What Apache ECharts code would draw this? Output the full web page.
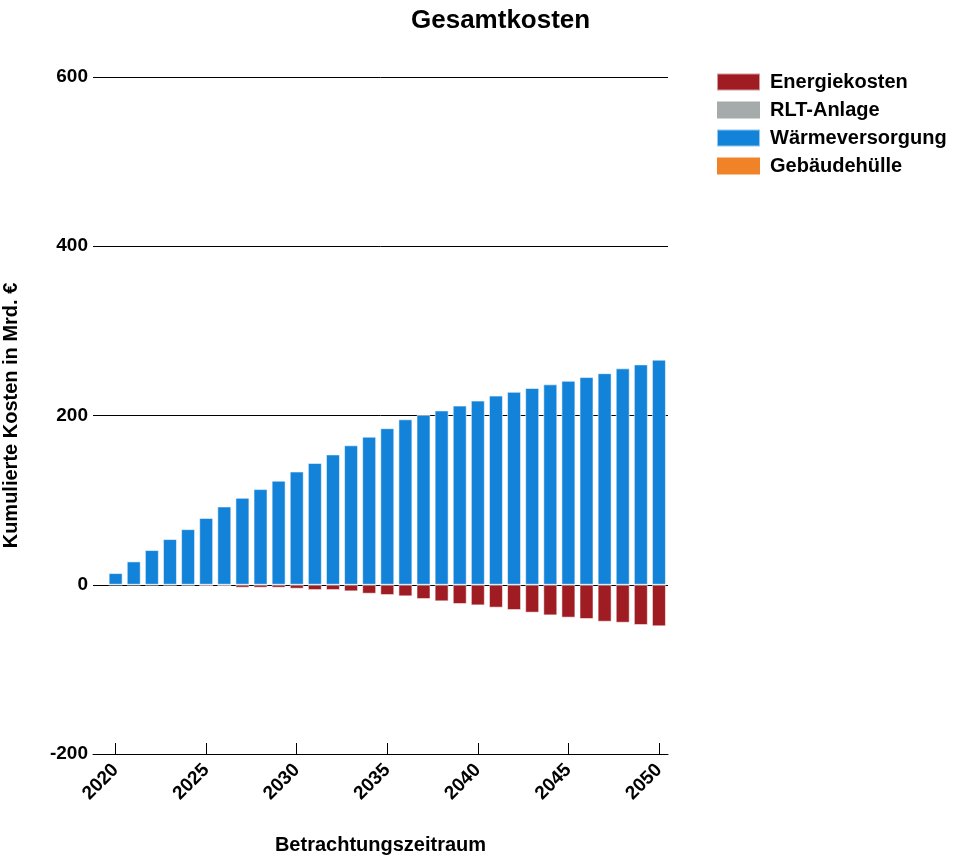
<!DOCTYPE html>
<html>
<head>
<meta charset="utf-8">
<script src="https://cdn.jsdelivr.net/npm/echarts@6/dist/echarts.min.js"></script>
<style>html,body{margin:0;padding:0;background:#fff}#c{width:955px;height:856px}</style>
</head>
<body>
<div id="c"></div>
<script>
var years = [2020,2021,2022,2023,2024,2025,2026,2027,2028,2029,2030,2031,2032,2033,2034,2035,2036,2037,2038,2039,2040,2041,2042,2043,2044,2045,2046,2047,2048,2049,2050];
var energiekosten = [-0.3,-0.4,-0.5,-0.6,-0.8,-2,-2,-3.5,-3.5,-3.5,-4.7,-6.3,-6.3,-7.8,-10.6,-12.2,-13.7,-16.9,-19.6,-22.8,-24.4,-27.1,-29.9,-33,-36.2,-38.9,-40.5,-43.7,-44.9,-47.6,-49.1];
var rltAnlage = [0,0,0,0,0,0,0,0,0,0,0,0,0,0,0,0,0,0,0,0,0,0,0,0,0,0,0,0,0,0,0];
var waermeversorgung = [13.8,27.6,41,54,65.7,79,92.5,102.7,113,123,133.8,144,154,164.8,175,185,195.5,200.6,206,211.7,217.6,223.5,228,232.5,236.8,241,245.4,250,255.7,260.4,266];
var gebaeudehuelle = [0,0,0,0,0,0,0,0,0,0,0,0,0,0,0,0,0,0,0,0,0,0,0,0,0,0,0,0,0,0,0];
var xTicks = [2020,2025,2030,2035,2040,2045,2050];

function pairs(vals){ return years.map(function(y,i){ return [y, vals[i]]; }); }

var font = 'Liberation Sans, Arial, sans-serif';
var chart = echarts.init(document.getElementById('c'));
function mk(name, vals, color, border){
  return {
    name: name, type: 'bar', stack: 'total', barWidth: 14,
    data: pairs(vals),
    itemStyle: { color: color, borderColor: border ? 'rgba(255,255,255,0.55)' : color, borderWidth: border ? 1 : 0 },
    emphasis: { disabled: true }
  };
}
chart.setOption({
  animation: false,
  textStyle: { fontFamily: font },
  title: { text: 'Gesamtkosten', left: 406, top: 3, textStyle: { fontFamily: font, fontSize: 26, fontWeight: 'bold', color: '#000' } },
  legend: {
    orient: 'vertical', left: 711, top: 67, itemWidth: 43, itemHeight: 17, itemGap: 8,
    icon: 'rect',
    textStyle: { fontFamily: font, fontSize: 20, fontWeight: 'bold', color: '#000', padding: [0,0,0,5] },
    data: ['Energiekosten','RLT-Anlage','Wärmeversorgung','Gebäudehülle']
  },
  grid: { left: 93, right: 287, top: 77, bottom: 102, containLabel: false, outerBoundsMode: 'none' },
  xAxis: {
    type: 'value', min: 2018.75, max: 2050.5,
    name: 'Betrachtungszeitraum', nameLocation: 'middle', nameGap: 81,
    nameTextStyle: { fontFamily: font, fontSize: 20, fontWeight: 'bold', color: '#000' },
    axisLine: { show: true, onZero: false, lineStyle: { color: '#000', width: 1 } },
    axisTick: { show: true, inside: true, length: 11, customValues: xTicks, lineStyle: { color: '#000' } },
    axisLabel: { customValues: xTicks, rotate: 45, margin: 13, fontFamily: font, fontSize: 19, fontWeight: 'bold', color: '#000', formatter: function(v){ return String(v); } },
    splitLine: { show: false }
  },
  yAxis: {
    type: 'value', min: -200, max: 600, interval: 200,
    name: 'Kumulierte Kosten in Mrd. €', nameLocation: 'middle', nameGap: 72,
    nameTextStyle: { fontFamily: font, fontSize: 20, fontWeight: 'bold', color: '#000' },
    axisLine: { show: false }, axisTick: { show: false },
    axisLabel: { margin: 5, fontFamily: font, fontSize: 19, fontWeight: 'bold', color: '#000' },
    splitLine: { show: true, lineStyle: { color: '#000', width: 1 } }
  },
  series: [
    mk('Energiekosten', energiekosten, '#9E1C22', true),
    mk('RLT-Anlage', rltAnlage, '#A5ABAA', false),
    mk('Wärmeversorgung', waermeversorgung, '#1283D9', true),
    mk('Gebäudehülle', gebaeudehuelle, '#F08328', false)
  ]
});
</script>
</body>
</html>
